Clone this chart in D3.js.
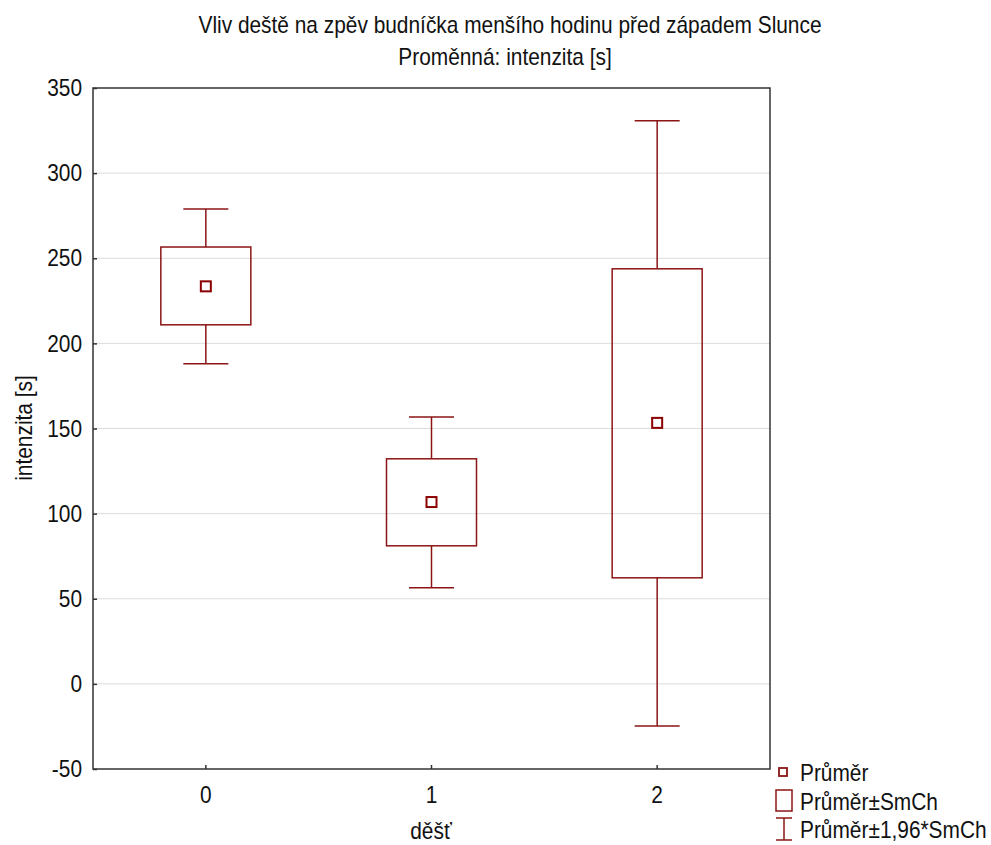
<!DOCTYPE html>
<html><head><meta charset="utf-8">
<script src="https://cdn.jsdelivr.net/npm/d3@7"></script>
<style>
html,body{margin:0;padding:0;background:#fff;}
text{font-family:"Liberation Sans",Arial,sans-serif;fill:#111;}
</style></head>
<body>
<svg id="chart" width="991" height="845"></svg>
<script>
const categories = ["0", "1", "2"];
const means  = [233.5, 106.8, 153.3];
const seLow  = [210.9, 81.1, 62.3];
const seHigh = [256.6, 132.2, 243.8];
const ciLow  = [188.0, 56.4, -24.7];
const ciHigh = [279.0, 156.8, 330.7];
const yTicks = [-50, 0, 50, 100, 150, 200, 250, 300, 350];
const titleLines = ["Vliv deště na zpěv budníčka menšího hodinu před západem Slunce", "Proměnná: intenzita [s]"];
const xLabel = "děšť";
const yLabel = "intenzita [s]";
const legendItems = ["Průměr", "Průměr±SmCh", "Průměr±1,96*SmCh"];

const SX = 0.87, FS = 24;
const color = "#8b1515";
const svg = d3.select("#chart");
const m = {left: 93, right: 221, top: 88, bottom: 76};
const W = 991, H = 845;
const x = d3.scaleBand().domain(categories).range([m.left, W - m.right]);
const y = d3.scaleLinear().domain([-50, 350]).range([H - m.bottom, m.top]);

function txt(g, s, tx, ty, anchor, rot) {
  return g.append("text")
    .attr("transform", `translate(${tx},${ty})` + (rot ? ` rotate(${rot})` : "") + ` scale(${SX},1)`)
    .attr("text-anchor", anchor).style("font-size", FS + "px").text(s);
}

// grid
svg.append("g").selectAll("line").data(yTicks.filter(d => d > -50 && d < 350)).join("line")
  .attr("x1", m.left).attr("x2", W - m.right)
  .attr("y1", d => y(d)).attr("y2", d => y(d))
  .attr("stroke", "#dcdcdc").attr("stroke-width", 1);

// axes
const gy = svg.append("g").attr("transform", `translate(${m.left},0)`)
  .call(d3.axisLeft(y).tickValues(yTicks).tickFormat(d => String(d)).tickSize(-4).tickPadding(11).tickSizeOuter(0));
const gx = svg.append("g").attr("transform", `translate(0,${H - m.bottom})`)
  .call(d3.axisBottom(x).tickSize(-4).tickPadding(17).tickSizeOuter(0));
[gy, gx].forEach(g => {
  g.select(".domain").remove();
  g.selectAll(".tick line").attr("stroke", "#333").attr("stroke-width", 1.5);
  g.selectAll(".tick text").style("font-size", FS + "px").style("font-family", '"Liberation Sans",Arial,sans-serif').attr("fill", "#111")
    .each(function() {
      const t = d3.select(this);
      const tx = +t.attr("x") || 0, ty = +t.attr("y") || 0;
      t.attr("x", 0).attr("y", 0).attr("transform", `translate(${tx},${ty}) scale(${SX},1)`);
    });
});

// frame
svg.append("rect").attr("x", m.left).attr("y", m.top)
  .attr("width", W - m.right - m.left).attr("height", H - m.bottom - m.top)
  .attr("fill", "none").attr("stroke", "#333").attr("stroke-width", 1.5);

// boxes
const boxW = 90, capW = 45, ms = 10;
const g = svg.append("g").attr("stroke", color).attr("fill", "none").attr("stroke-width", 1.5);
categories.forEach((c, i) => {
  const cx = x(c) + x.bandwidth() / 2;
  g.append("line").attr("x1", cx).attr("x2", cx).attr("y1", y(ciHigh[i])).attr("y2", y(seHigh[i]));
  g.append("line").attr("x1", cx).attr("x2", cx).attr("y1", y(seLow[i])).attr("y2", y(ciLow[i]));
  g.append("line").attr("x1", cx - capW / 2).attr("x2", cx + capW / 2).attr("y1", y(ciHigh[i])).attr("y2", y(ciHigh[i]));
  g.append("line").attr("x1", cx - capW / 2).attr("x2", cx + capW / 2).attr("y1", y(ciLow[i])).attr("y2", y(ciLow[i]));
  g.append("rect").attr("x", cx - boxW / 2).attr("width", boxW)
    .attr("y", y(seHigh[i])).attr("height", y(seLow[i]) - y(seHigh[i]));
  g.append("rect").attr("x", cx - ms / 2).attr("y", y(means[i]) - ms / 2).attr("width", ms).attr("height", ms)
    .attr("stroke", "#8b0000").attr("stroke-width", 2);
});

// titles
txt(svg, titleLines[0], 510, 33, "middle");
txt(svg, titleLines[1], 505, 65, "middle");
txt(svg, xLabel, 431, 839, "middle");
txt(svg, yLabel, 32, 428, "middle", -90);

// legend
const lg = svg.append("g");
const lx = 784, rows = [772, 801, 829];
lg.append("rect").attr("x", lx - 5).attr("y", rows[0] - 4).attr("width", 8).attr("height", 8)
  .attr("fill", "none").attr("stroke", color).attr("stroke-width", 1.8);
lg.append("rect").attr("x", lx - 8).attr("y", rows[1] - 11).attr("width", 16).attr("height", 21)
  .attr("fill", "none").attr("stroke", color).attr("stroke-width", 1.5);
lg.append("line").attr("x1", lx).attr("x2", lx).attr("y1", rows[2] - 11).attr("y2", rows[2] + 11).attr("stroke", color).attr("stroke-width", 1.5);
lg.append("line").attr("x1", lx - 8).attr("x2", lx + 8).attr("y1", rows[2] - 11).attr("y2", rows[2] - 11).attr("stroke", color).attr("stroke-width", 1.5);
lg.append("line").attr("x1", lx - 8).attr("x2", lx + 8).attr("y1", rows[2] + 11).attr("y2", rows[2] + 11).attr("stroke", color).attr("stroke-width", 1.5);
legendItems.forEach((s, i) => txt(lg, s, 800, rows[i] + 9, "start"));
</script>
</body></html>
